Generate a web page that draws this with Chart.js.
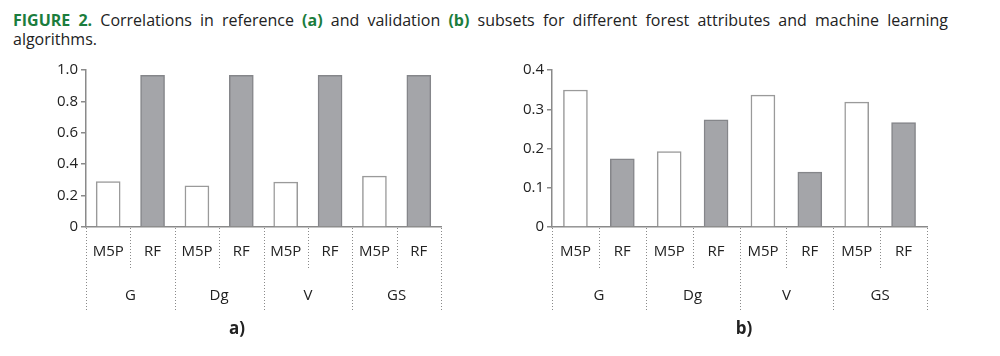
<!DOCTYPE html>
<html><head><meta charset="utf-8">
<script src="https://cdn.jsdelivr.net/npm/chart.js@4/dist/chart.umd.min.js"></script>
<style>
html,body{margin:0;padding:0;background:#fff;}
body{width:1000px;height:356px;position:relative;overflow:hidden;font-family:"Open Sans",sans-serif;color:#222;}
#title{position:absolute;left:13px;top:11px;width:935px;font-size:16px;line-height:19px;}
#title .l1{text-align:justify;text-align-last:justify;white-space:nowrap;}
.g{color:#1b7d3d;font-weight:bold;}
.cv{position:absolute;}
.lab{position:absolute;font-weight:bold;font-size:17px;transform:translate(-50%,-50%);}
</style></head><body>
<div id="title"><div class="l1"><span class="g">FIGURE 2.</span> Correlations in reference <span class="g">(a)</span> and validation <span class="g">(b)</span> subsets for different forest attributes and machine learning</div><div>algorithms.</div></div>
<div class="cv" style="left:30px;top:58px;width:440px;height:262px;"><canvas id="c1"></canvas></div>
<div class="cv" style="left:500px;top:58px;width:450px;height:262px;"><canvas id="c2"></canvas></div>
<div class="lab" style="left:237px;top:327px;">a)</div>
<div class="lab" style="left:744px;top:327px;">b)</div>
<script>
const algorithms = ['M5P','RF','M5P','RF','M5P','RF','M5P','RF'];
const attributes = ['G','Dg','V','GS'];
const referenceValues = [0.29,0.966,0.263,0.966,0.286,0.966,0.324,0.966];
const validationValues = [0.349,0.174,0.192,0.273,0.336,0.140,0.318,0.266];
const refTicks = [0,0.2,0.4,0.6,0.8,1.0];
const valTicks = [0,0.1,0.2,0.3,0.4];

const FONT = {family:'"Open Sans", sans-serif', size:15};
const axisColor = '#8a8a8a';

const groupPlugin = {
  id:'groups',
  afterDraw(chart){
    const ctx = chart.ctx, xs = chart.scales.x, bottom = chart.chartArea.bottom;
    const n = xs.ticks.length;
    const w = (xs.right - xs.left)/n;
    ctx.save();
    ctx.strokeStyle = '#8a8a8a'; ctx.lineWidth = 1; ctx.setLineDash([1,2]);
    for(let i=0;i<=n;i++){
      const x = Math.round(xs.left + i*w)+0.5;
      const len = (i%2===0)?84:42;
      ctx.beginPath(); ctx.moveTo(x,bottom+1); ctx.lineTo(x,bottom+len); ctx.stroke();
    }
    ctx.setLineDash([]);
    ctx.fillStyle = '#222'; ctx.font = '15px "Open Sans", sans-serif';
    ctx.textAlign='center'; ctx.textBaseline='middle';
    for(let i=0;i<n;i++){
      ctx.fillText(chart.data.labels[i], xs.getPixelForValue(i), bottom+25);
    }
    const groups = chart.options.plugins.groups.names;
    for(let g=0;g<groups.length;g++){
      const x = (xs.getPixelForValue(2*g)+xs.getPixelForValue(2*g+1))/2;
      ctx.fillText(groups[g], x, bottom+69);
    }
    ctx.restore();
  }
};

function makeChart(id, values, ticks, yAxisWidth, padRight, barThick){
  const fills = algorithms.map(a => a==='RF' ? '#a4a5a9' : '#ffffff');
  const borders = algorithms.map(a => a==='RF' ? '#85868a' : '#9a9a9a');
  return new Chart(document.getElementById(id), {
    type:'bar',
    data:{labels:algorithms, datasets:[{data:values, backgroundColor:fills, borderColor:borders, borderWidth:1.5, barThickness:barThick}]},
    options:{
      responsive:true, maintainAspectRatio:false, animation:false,
      layout:{padding:{top:10,right:padRight,bottom:0,left:0}},
      plugins:{legend:{display:false}, tooltip:{enabled:false}, groups:{names:attributes}},
      scales:{
        x:{
          grid:{display:true, drawOnChartArea:false, drawTicks:false, color:'rgba(0,0,0,0)'},
          border:{display:true, color:axisColor, width:1.5},
          ticks:{display:false},
          afterFit(s){ s.height = 93; }
        },
        y:{
          min:ticks[0], max:ticks[ticks.length-1],
          afterBuildTicks(s){ s.ticks = ticks.map(v=>({value:v})); },
          grid:{display:true, drawOnChartArea:false, drawTicks:true, tickLength:5, color:axisColor, lineWidth:1.5},
          border:{display:true, color:axisColor, width:1.5},
          ticks:{font:FONT, color:'#222', padding:3, callback:v => v===0 ? '0' : v.toFixed(1)},
          afterFit(s){ s.width = yAxisWidth; }
        }
      }
    },
    plugins:[groupPlugin]
  });
}
makeChart('c1', referenceValues, refTicks, 56, 29, 24);
makeChart('c2', validationValues, valTicks, 52, 23, 24);
</script>
</body></html>
